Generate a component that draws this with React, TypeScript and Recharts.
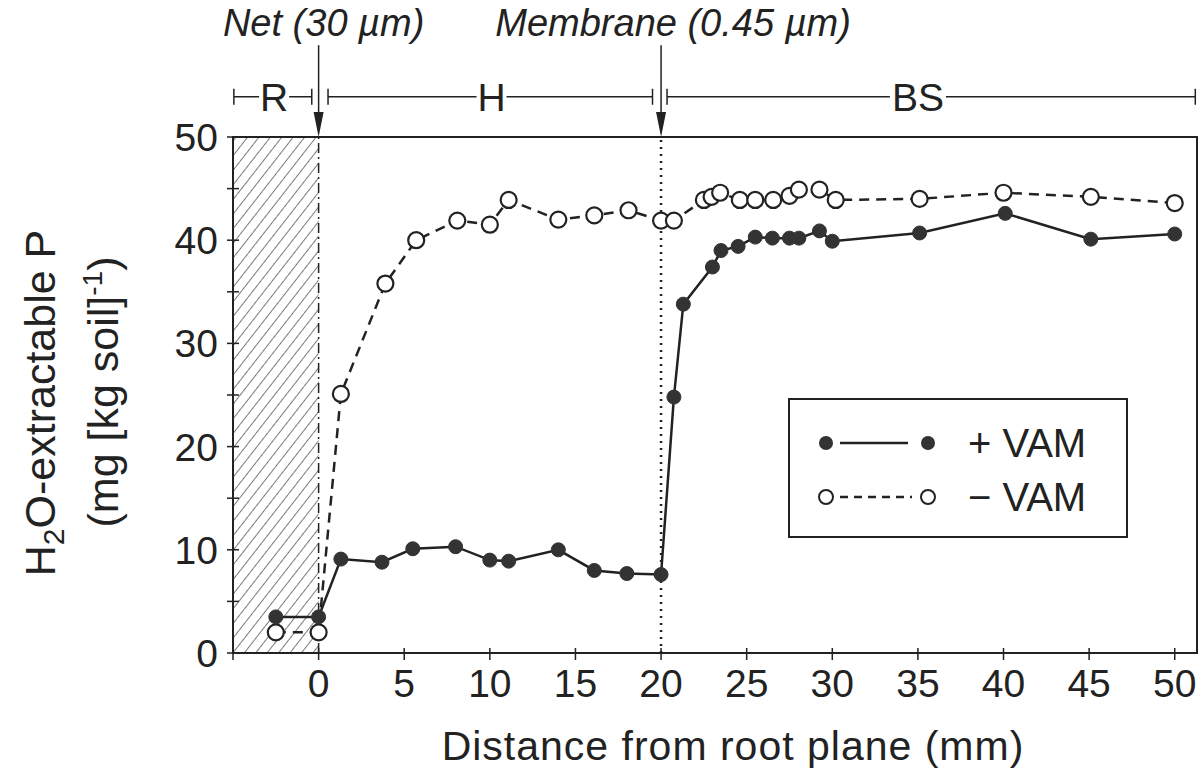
import {
  LineChart,
  Line,
  XAxis,
  YAxis,
  ReferenceArea,
  ReferenceLine,
  Legend,
} from "recharts";

// distance from root plane (mm) and H2O-extractable P, +VAM (filled dots)
const WITH_VAM_X = [
  -2.5, 0, 1.3, 3.7, 5.5, 8.0, 10.0, 11.1, 14.0, 16.1, 18.0, 20.0, 20.75, 21.3,
  23.0, 23.5, 24.5, 25.5, 26.5, 27.5, 28.05, 29.25, 30.0, 35.1, 40.1, 45.1, 50.0,
];
const WITH_VAM_P = [
  3.5, 3.5, 9.1, 8.8, 10.1, 10.3, 9.0, 8.9, 10.0, 8.0, 7.7, 7.6, 24.8, 33.8,
  37.4, 39.0, 39.4, 40.3, 40.2, 40.2, 40.2, 40.9, 39.9, 40.7, 42.6, 40.1, 40.6,
];
// -VAM (open circles)
const WITHOUT_VAM_X = [
  -2.5, 0, 1.3, 3.9, 5.7, 8.1, 10.0, 11.1, 14.0, 16.1, 18.1, 20.0, 20.75, 22.5,
  22.95, 23.45, 24.6, 25.5, 26.55, 27.5, 28.05, 29.25, 30.2, 35.1, 40.0, 45.1, 50.0,
];
const WITHOUT_VAM_P = [
  2.0, 2.0, 25.1, 35.8, 40.0, 41.9, 41.5, 43.9, 42.0, 42.4, 42.9, 41.9, 41.9,
  43.9, 44.2, 44.6, 43.9, 43.9, 43.9, 44.3, 44.9, 44.9, 43.9, 44.0, 44.6, 44.2, 43.6,
];

const X_TICKS = [-5, 0, 5, 10, 15, 20, 25, 30, 35, 40, 45, 50];
const Y_TICKS = [0, 5, 10, 15, 20, 25, 30, 35, 40, 45, 50];
const X_DOMAIN = [-5, 51.3];
const Y_DOMAIN = [0, 50];

// compartments above the plot: R (root), H (hyphal), BS (bulk soil)
const ZONES = [
  { name: "R", from: -4.95, to: -0.4, at: -2.6, w: 30 },
  { name: "H", from: 0.55, to: 19.5, at: 10.1, w: 30 },
  { name: "BS", from: 20.35, to: 51.2, at: 35.0, w: 56 },
];
const BARRIERS = [
  { name: "Net (30 µm)", x: 0, dx: 5 },
  { name: "Membrane (0.45 µm)", x: 20, dx: 12 },
];
const ZONE_LEVEL = 53.9;
const ARROW_TOP = 58.9;

const INK = "#222";
const FONT = '"Liberation Sans", Arial, Helvetica, sans-serif';

const withVam = WITH_VAM_X.map((x, i) => ({ x, p: WITH_VAM_P[i] }));
const withoutVam = WITHOUT_VAM_X.map((x, i) => ({ x, p: WITHOUT_VAM_P[i] }));

function XTick(props: any) {
  const { x, y, payload } = props;
  return (
    <g>
      <line x1={x} x2={x} y1={y - 5} y2={y + 7} stroke={INK} strokeWidth={1.5} />
      {payload.value >= 0 && (
        <text x={x} y={y + 44} textAnchor="middle" fontSize={39} fill={INK} fontFamily={FONT}>
          {payload.value}
        </text>
      )}
    </g>
  );
}

function YTick(props: any) {
  const { x, y, payload } = props;
  return (
    <g>
      <line x1={x - 6} x2={x + 6} y1={y} y2={y} stroke={INK} strokeWidth={1.5} />
      {payload.value % 10 === 0 && (
        <text x={x - 15} y={y + 14} textAnchor="end" fontSize={39} fill={INK} fontFamily={FONT}>
          {payload.value}
        </text>
      )}
    </g>
  );
}

function YTitle(props: any) {
  const vb = props.viewBox;
  const cy = vb.y + vb.height / 2;
  const x1 = vb.x - 98;
  const x2 = vb.x - 35;
  return (
    <g fontFamily={FONT} fontSize={43} fill={INK}>
      <text x={x1} y={cy + 8} transform={`rotate(-90, ${x1}, ${cy + 8})`} textAnchor="middle">
        <tspan>H</tspan>
        <tspan fontSize={30} dy={9}>2</tspan>
        <tspan dy={-9}>O-extractable P</tspan>
      </text>
      <text x={x2} y={cy - 3} transform={`rotate(-90, ${x2}, ${cy - 3})`} textAnchor="middle">
        <tspan>(mg [kg soil]</tspan>
        <tspan fontSize={28} dy={-16}>-1</tspan>
        <tspan dy={16}>)</tspan>
      </text>
    </g>
  );
}

function XTitle(props: any) {
  const vb = props.viewBox;
  return (
    <text
      x={vb.x + vb.width / 2 + 18}
      y={vb.y + 107}
      textAnchor="middle"
      fontSize={41}
      fill={INK}
      fontFamily={FONT}
      letterSpacing={1}
    >
      Distance from root plane (mm)
    </text>
  );
}

function arrowShape(label: string, dx: number) {
  return (props: any) => {
    const { x1, y1, x2, y2 } = props;
    return (
      <g>
        <text x={x1 + dx} y={y1 - 9} textAnchor="middle" fontSize={38} fontStyle="italic" fill={INK} fontFamily={FONT}>
          {label}
        </text>
        <line x1={x1} y1={y1} x2={x2} y2={y2 - 20} stroke={INK} strokeWidth={1.5} />
        <polygon points={`${x2 - 5},${y2 - 25} ${x2 + 5},${y2 - 25} ${x2},${y2}`} fill={INK} />
      </g>
    );
  };
}

function zoneShape(label: string, mid: number, w: number) {
  return (props: any) => {
    const { x1, y1, x2 } = props;
    const gap = w / 2;
    return (
      <g stroke={INK} strokeWidth={1.5}>
        <line x1={x1} x2={x1} y1={y1 - 8} y2={y1 + 8} />
        <line x1={x2} x2={x2} y1={y1 - 8} y2={y1 + 8} />
        <line x1={x1} x2={mid - gap} y1={y1} y2={y1} />
        <line x1={mid + gap} x2={x2} y1={y1} y2={y1} />
        <text x={mid} y={y1 + 14} textAnchor="middle" fontSize={39} fill={INK} stroke="none" fontFamily={FONT}>
          {label}
        </text>
      </g>
    );
  };
}

function LegendBox() {
  return (
    <div
      style={{
        width: 340,
        height: 140,
        border: `2px solid ${INK}`,
        boxSizing: "border-box",
        background: "#fff",
      }}
    >
      <svg width={336} height={136} style={{ display: "block" }}>
        <g transform="translate(-2,-2)">
          <circle cx={38} cy={45} r={7} fill="#333" />
          <line x1={52} x2={120} y1={45} y2={45} stroke={INK} strokeWidth={2.5} />
          <circle cx={140} cy={45} r={7} fill="#333" />
          <text x={180} y={59} fontSize={40} fill={INK} fontFamily={FONT}>
            + VAM
          </text>
          <circle cx={38} cy={99} r={7} fill="#fff" stroke={INK} strokeWidth={2} />
          <line x1={52} x2={124} y1={99} y2={99} stroke={INK} strokeWidth={2.5} strokeDasharray="8 6" />
          <circle cx={140} cy={99} r={7} fill="#fff" stroke={INK} strokeWidth={2} />
          <text x={180} y={113} fontSize={40} fill={INK} fontFamily={FONT}>
            − VAM
          </text>
        </g>
      </svg>
    </div>
  );
}

export default function App() {
  return (
    <div style={{ position: "absolute", left: 0, top: 0, background: "#fff", fontFamily: FONT }}>
      <LineChart
        width={1202}
        height={774}
        margin={{ top: 137, right: 5, left: 153, bottom: 61 }}
      >
        <defs>
          <pattern id="hatch" width="9" height="9" patternUnits="userSpaceOnUse" patternTransform="rotate(38)">
            <line x1="0" y1="0" x2="0" y2="9" stroke="#333" strokeWidth="1.3" />
          </pattern>
        </defs>
        <XAxis
          type="number"
          dataKey="x"
          domain={X_DOMAIN}
          ticks={X_TICKS}
          allowDataOverflow
          height={60}
          tickLine={false}
          tickSize={0}
          tickMargin={0}
          axisLine={{ stroke: INK, strokeWidth: 2 }}
          tick={<XTick />}
          label={XTitle}
          interval={0}
        />
        <YAxis
          type="number"
          domain={Y_DOMAIN}
          ticks={Y_TICKS}
          allowDataOverflow
          width={80}
          tickLine={false}
          tickSize={0}
          tickMargin={0}
          axisLine={{ stroke: INK, strokeWidth: 2 }}
          tick={<YTick />}
          label={YTitle}
          interval={0}
        />
        <ReferenceArea x1={-5} x2={0} y1={0} y2={50} fill="url(#hatch)" fillOpacity={1} stroke="none" />
        <ReferenceArea x1={-5} x2={51.3} y1={0} y2={50} fill="none" stroke={INK} strokeWidth={2} />
        <ReferenceLine x={0} stroke={INK} strokeWidth={1.5} strokeDasharray="10 4 2 4" />
        <ReferenceLine x={20} stroke={INK} strokeWidth={2.5} strokeDasharray="2 5" />
        {BARRIERS.map((b) => (
          <ReferenceLine
            key={b.name}
            segment={[
              { x: b.x, y: ARROW_TOP },
              { x: b.x, y: 50 },
            ]}
            ifOverflow="visible"
            shape={arrowShape(b.name, b.dx)}
          />
        ))}
        {ZONES.map((z) => (
          <ReferenceLine
            key={z.name}
            segment={[
              { x: z.from, y: ZONE_LEVEL },
              { x: z.to, y: ZONE_LEVEL },
            ]}
            ifOverflow="visible"
            shape={(props: any) => {
              const { x1, x2 } = props;
              const mid = x1 + ((z.at - z.from) / (z.to - z.from)) * (x2 - x1);
              return zoneShape(z.name, mid, z.w)(props);
            }}
          />
        ))}
        <Line
          data={withoutVam}
          dataKey="p"
          type="linear"
          stroke={INK}
          strokeWidth={2.5}
          strokeDasharray="10 7"
          dot={{ r: 8, fill: "#fff", stroke: INK, strokeWidth: 2.2, strokeDasharray: "none" }}
          activeDot={false}
          isAnimationActive={false}
        />
        <Line
          data={withVam}
          dataKey="p"
          type="linear"
          stroke={INK}
          strokeWidth={2.5}
          dot={{ r: 7, fill: "#333", stroke: "#333", strokeWidth: 1 }}
          activeDot={false}
          isAnimationActive={false}
        />
        <Legend
          layout="vertical"
          align="center"
          verticalAlign="middle"
          content={<LegendBox />}
          wrapperStyle={{ left: 788, top: 398, width: 340, height: 140 }}
        />
      </LineChart>
    </div>
  );
}
